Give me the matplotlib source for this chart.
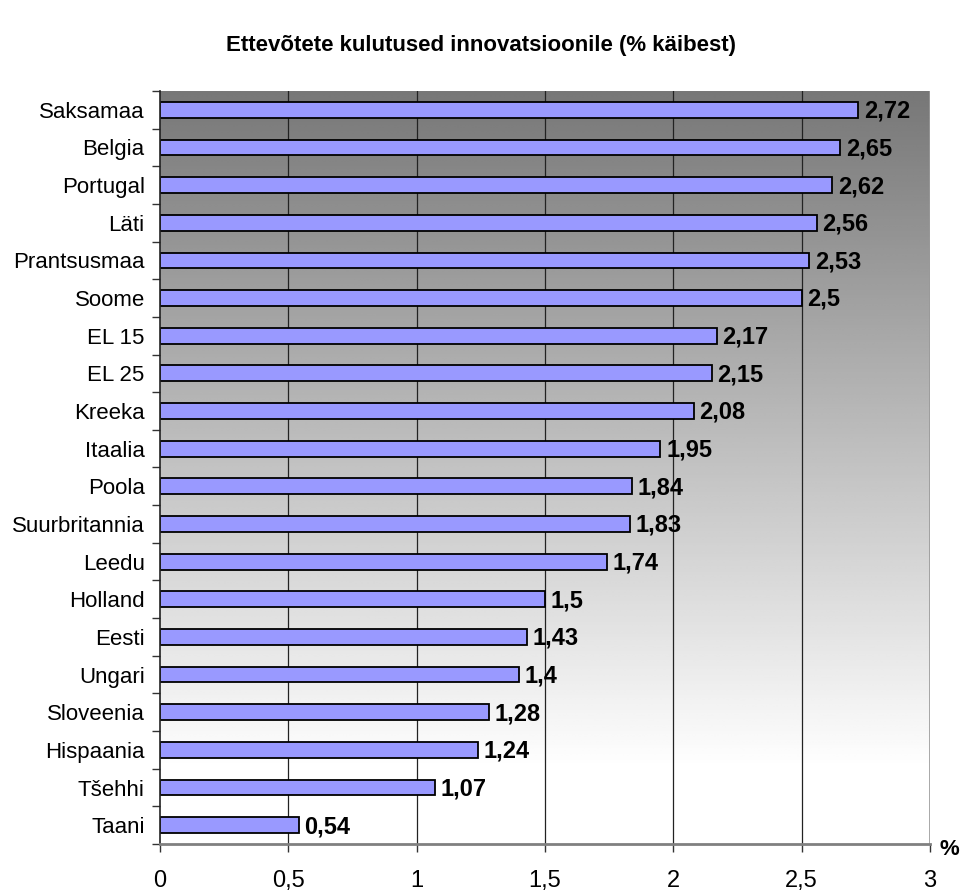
import matplotlib.pyplot as plt
import numpy as np

plt.rcParams['font.family'] = ['Liberation Sans', 'DejaVu Sans']

# Countries (top to bottom) and spending on innovation (% of turnover)
countries = ['Saksamaa', 'Belgia', 'Portugal', 'Läti', 'Prantsusmaa', 'Soome',
             'EL 15', 'EL 25', 'Kreeka', 'Itaalia', 'Poola', 'Suurbritannia',
             'Leedu', 'Holland', 'Eesti', 'Ungari', 'Sloveenia', 'Hispaania',
             'Tšehhi', 'Taani']
values = [2.72, 2.65, 2.62, 2.56, 2.53, 2.5, 2.17, 2.15, 2.08, 1.95, 1.84,
          1.83, 1.74, 1.5, 1.43, 1.4, 1.28, 1.24, 1.07, 0.54]
x_ticks = [0, 0.5, 1, 1.5, 2, 2.5, 3]
x_tick_labels = ['0', '0,5', '1', '1,5', '2', '2,5', '3']

n = len(countries)
fig = plt.figure(figsize=(9.62, 8.96), dpi=100)
ax = fig.add_axes([160 / 962, 1 - 844 / 896, 770 / 962, 753 / 896])

# Background gradient: dark gray at top, white at bottom
grad = np.linspace(0, 1, 256)
shade = np.clip(0.467 + grad / 0.9 * 0.533, 0, 1)
img = np.repeat(shade[:, None], 2, axis=1)
ax.imshow(img, extent=[0, 3, n - 0.5, -0.5], aspect='auto', zorder=0,
          cmap='gray', vmin=0, vmax=1, interpolation='bilinear', origin='upper')

y = np.arange(n)
for gx in x_ticks[1:-1]:
    ax.axvline(gx, color='#222222', linewidth=0.9, zorder=1)
ax.axvline(3, color='#999999', linewidth=1.2, zorder=1)

ax.barh(y, values, height=0.42, color='#9999FF', edgecolor='black',
        linewidth=1.3, zorder=2)

for yi, v in zip(y, values):
    ax.annotate(f"{v:g}".replace('.', ','), (v, yi), xytext=(4, -1),
                textcoords='offset points', va='center', ha='left',
                fontsize=17, fontweight='bold', zorder=3)

ax.set_xlim(0, 3)
ax.set_ylim(n - 0.5, -0.5)
ax.set_yticks(y)
ax.set_yticklabels(countries, fontsize=16)
ax.set_yticks(np.arange(n + 1) - 0.5, minor=True)
ax.tick_params(axis='y', which='major', length=0, pad=11)
ax.tick_params(axis='y', which='minor', length=6, width=1, color='#333333')
ax.set_xticks(x_ticks)
ax.set_xticklabels(x_tick_labels, fontsize=17)
ax.tick_params(axis='x', length=6, width=1, color='#333333', pad=13)

for side in ['top', 'right']:
    ax.spines[side].set_visible(False)
ax.spines['left'].set_color('#222222')
ax.spines['left'].set_linewidth(1.2)
ax.spines['bottom'].set_color('#808080')
ax.spines['bottom'].set_linewidth(2)

ax.annotate('%', (1.0, 0.0), xycoords='axes fraction', xytext=(7, -4),
            textcoords='offset points', fontsize=16, fontweight='bold',
            ha='left', va='center')

fig.suptitle('Ettevõtete kulutused innovatsioonile (% käibest)', y=1 - 45 / 896,
             fontsize=16, fontweight='bold', va='center')

plt.savefig('out.png', dpi=100)
plt.close()
